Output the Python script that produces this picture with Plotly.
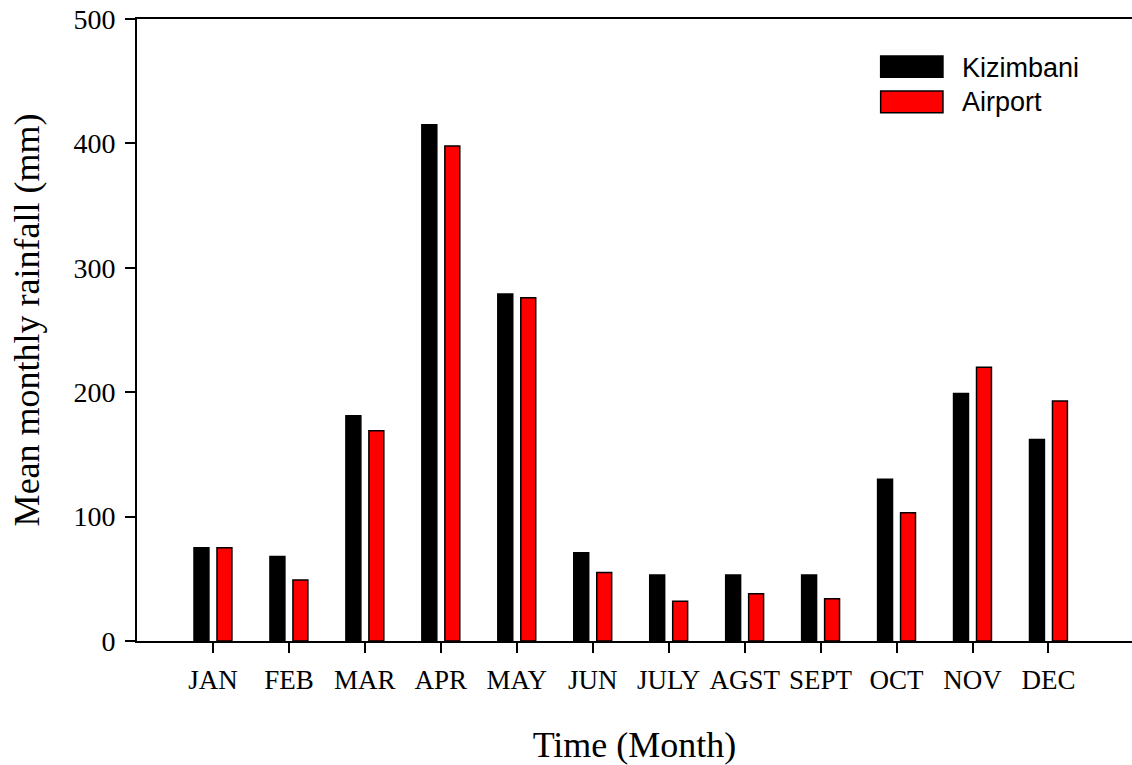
import plotly.graph_objects as go

months = ["JAN", "FEB", "MAR", "APR", "MAY", "JUN", "JULY", "AGST", "SEPT", "OCT", "NOV", "DEC"]
kizimbani = [75, 68, 181, 415, 279, 71, 53, 53, 53, 130, 199, 162]
airport = [75, 49, 169, 398, 276, 55, 32, 38, 34, 103, 220, 193]
y_ticks = [0, 100, 200, 300, 400, 500]

serif = "Liberation Serif, Times New Roman, serif"
sans = "Liberation Sans, Arial, sans-serif"

fig = go.Figure()
fig.add_trace(go.Bar(x=months, y=kizimbani, name="Kizimbani",
                     marker=dict(color="#000000", line=dict(color="#000000", width=1.5)),
                     showlegend=False))
fig.add_trace(go.Bar(x=months, y=airport, name="Airport",
                     marker=dict(color="#ff0000", line=dict(color="#000000", width=1.5)),
                     showlegend=False))

# custom legend (large swatches)
legend_items = [("Kizimbani", "#000000", 0.9063, 0.9405, 0.9212),
                ("Airport", "#ff0000", 0.8494, 0.8842, 0.8666)]
for name, col, y0, y1, yt in legend_items:
    fig.add_shape(type="rect", xref="paper", yref="paper", x0=0.7474, x1=0.810, y0=y0, y1=y1,
                  fillcolor=col, line=dict(color="#000000", width=1.5))
    fig.add_annotation(xref="paper", yref="paper", x=0.8271, y=yt, text=name, showarrow=False,
                       xanchor="left", yanchor="middle", font=dict(family=sans, size=27, color="#000000"))

# y-axis title as rotated annotation for exact placement
fig.add_annotation(xref="paper", yref="paper", x=-0.1106, y=0.517, text="Mean monthly rainfall (mm)",
                   showarrow=False, textangle=-90, xanchor="center", yanchor="middle",
                   font=dict(family=serif, size=36, color="#000000"))

fig.update_layout(
    width=1132, height=765,
    margin=dict(l=137, r=0, t=19, b=124),
    paper_bgcolor="white", plot_bgcolor="white",
    barmode="group", bargap=0.395, bargroupgap=0.35,
    font=dict(family=serif, color="#000000"),
)
fig.update_xaxes(
    range=[-1, 12.1], showline=True, linecolor="#000000", linewidth=2, mirror=True,
    ticks="outside", ticklen=10, tickwidth=2, tickcolor="#000000",
    tickfont=dict(family=serif, size=27), showgrid=False, zeroline=False,
    ticklabelstandoff=4, automargin=False,
    title=dict(text="Time (Month)", font=dict(family=serif, size=36), standoff=37),
)
fig.update_yaxes(
    range=[0, 500], tickvals=y_ticks, showline=True, linecolor="#000000", linewidth=2,
    ticks="outside", ticklen=10, tickwidth=2, tickcolor="#000000",
    tickfont=dict(family=serif, size=28), showgrid=False, zeroline=False,
    ticklabelstandoff=4, automargin=False, ticklabeloverflow="allow",
)

fig.write_html("out.html", config={"displayModeBar": False},
               post_script="document.body.style.margin='0';document.body.style.overflow='hidden';")
